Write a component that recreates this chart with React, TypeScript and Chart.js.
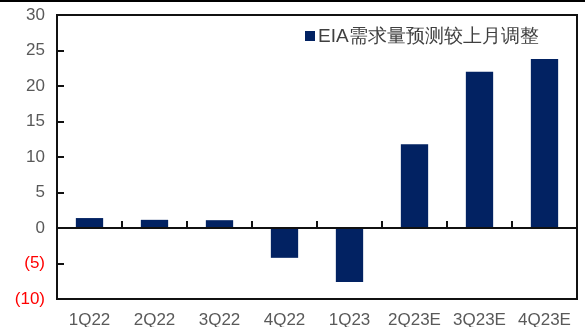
import React, { useEffect, useRef } from "react";
import { Chart, registerables } from "chart.js";

Chart.register(...registerables);

const categories = ["1Q22", "2Q22", "3Q22", "4Q22", "1Q23", "2Q23E", "3Q23E", "4Q23E"];
const seriesLabel = "EIA需求量预测较上月调整";
const seriesValues = [1.4, 1.15, 1.1, -4.2, -7.6, 11.8, 22.0, 23.8];
const yMin = -10;
const yMax = 30;
const yStep = 5;

const BAR_COLOR = "#022262";
const FONT = "'Liberation Sans', Arial, sans-serif";

const framePlugin = {
  id: "framePlugin",
  afterDraw(chart: any) {
    const { ctx, chartArea } = chart;
    const y = chart.scales.y;
    const x = chart.scales.x;
    const left = Math.round(chartArea.left);
    const right = Math.round(chartArea.right);
    const top = Math.round(chartArea.top);
    const bottom = Math.round(chartArea.bottom);
    ctx.save();
    ctx.fillStyle = "#000";
    ctx.fillRect(0, 0, chart.width, 2);
    ctx.fillStyle = "#111";
    ctx.fillRect(left - 1, top - 1, 2, bottom - top + 2);
    ctx.fillRect(right - 1, top - 1, 2, bottom - top + 2);
    ctx.fillRect(left - 1, top - 1, right - left + 2, 2);
    ctx.fillRect(left - 1, bottom - 1, right - left + 2, 2);
    const y0 = Math.round(y.getPixelForValue(0));
    ctx.fillRect(left, y0 - 1, right - left, 2);
    y.ticks.forEach((t: any) => {
      if (t.value === yMin || t.value === yMax || t.value === 0) return;
      const py = Math.round(y.getPixelForValue(t.value));
      ctx.fillRect(left, py - 1, 7, 2);
    });
    const n = chart.data.labels.length;
    for (let i = 1; i < n; i++) {
      const px = Math.round((x.getPixelForValue(i - 1) + x.getPixelForValue(i)) / 2);
      ctx.fillRect(px - 1, y0 - 7, 2, 7);
    }
    const ds = chart.data.datasets[0];
    ctx.fillStyle = ds.backgroundColor;
    ctx.fillRect(305, 31, 10, 10);
    ctx.fillStyle = "#404040";
    ctx.font = `19px ${FONT}`;
    ctx.textBaseline = "middle";
    ctx.textAlign = "left";
    ctx.fillText(ds.label, 318, 37);
    ctx.restore();
  },
};

export default function App() {
  const ref = useRef<HTMLCanvasElement>(null);
  useEffect(() => {
    const chart = new Chart(ref.current as HTMLCanvasElement, {
      type: "bar",
      data: {
        labels: categories,
        datasets: [
          {
            label: seriesLabel,
            data: seriesValues,
            backgroundColor: BAR_COLOR,
            categoryPercentage: 1,
            barPercentage: 0.42,
          },
        ],
      },
      options: {
        animation: false,
        responsive: false,
        layout: { padding: { top: 15, right: 8, left: 0, bottom: 0 } },
        plugins: { legend: { display: false }, tooltip: { enabled: false } },
        scales: {
          x: {
            grid: { display: false },
            border: { display: false },
            ticks: { color: "#595959", font: { family: FONT, size: 17 }, padding: 3, maxRotation: 0, autoSkip: false },
            afterFit: (s: any) => {
              s.height = 28;
              s.paddingLeft = 0;
              s.paddingRight = 0;
            },
          },
          y: {
            min: yMin,
            max: yMax,
            grid: { display: false },
            border: { display: false },
            ticks: {
              stepSize: yStep,
              padding: 4,
              font: { family: FONT, size: 17 },
              color: (c: any) => (c.tick && c.tick.value < 0 ? "#ff0000" : "#595959"),
              callback: (v: any) => (v < 0 ? `(${-v})` : `${v}`),
            },
            afterFit: (s: any) => {
              s.width = 57;
              s.paddingTop = 0;
              s.paddingBottom = 0;
            },
          },
        },
      },
      plugins: [framePlugin],
    });
    return () => chart.destroy();
  }, []);
  return (
    <div style={{ position: "absolute", left: 0, top: 0, width: 585, height: 327, background: "#fff" }}>
      <canvas ref={ref} width={585} height={327} style={{ display: "block" }} />
    </div>
  );
}
